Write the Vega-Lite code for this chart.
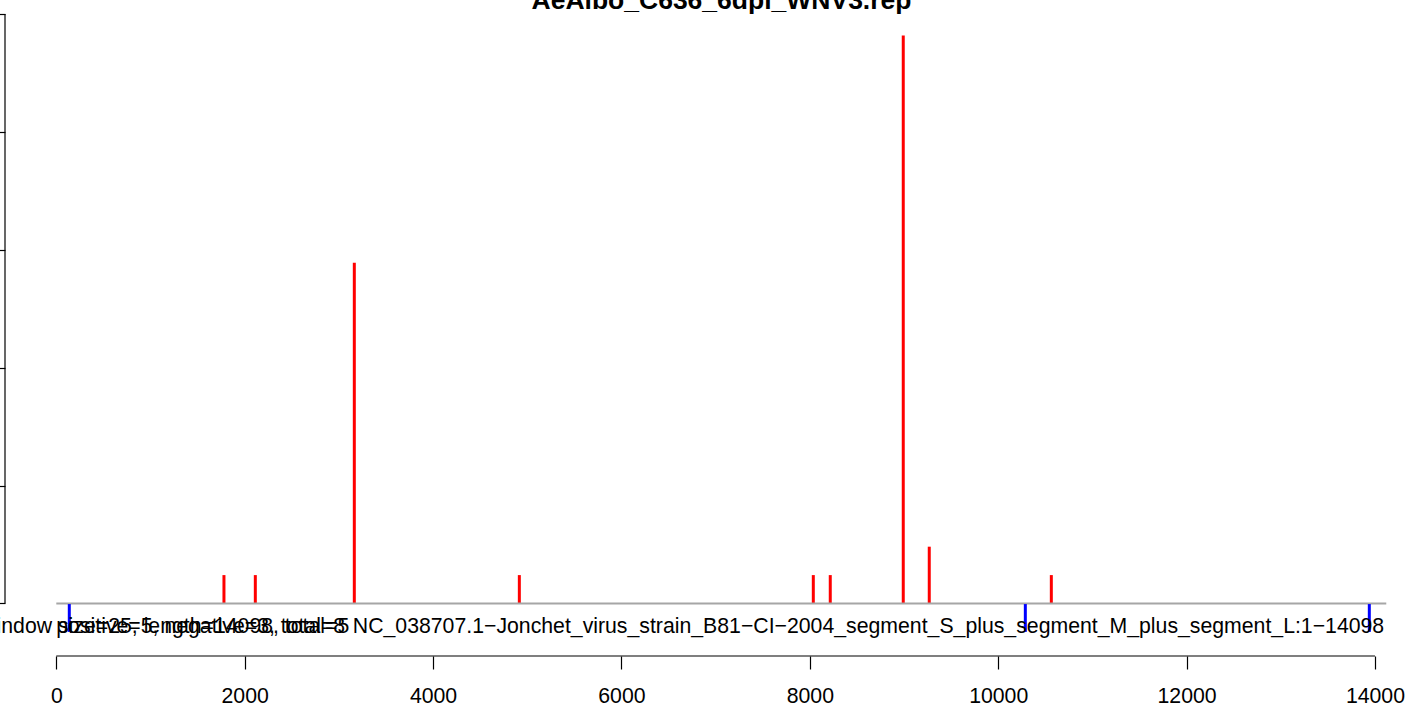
{
  "$schema": "https://vega.github.io/schema/vega-lite/v6.json",
  "width": 1395,
  "height": 642,
  "autosize": {"type": "none"},
  "padding": {"left": 5, "top": 14, "right": 7, "bottom": 51},
  "background": "white",
  "title": {"text": "AeAlbo_C636_6dpi_WNV3.rep", "font": "Liberation Sans", "fontSize": 26.5, "fontWeight": "bold", "anchor": "middle", "baseline": "alphabetic", "offset": 0, "dy": 22, "dx": 19, "color": "black"},
  "config": {"view": {"stroke": null}},
  "datasets": {
    "pos": [
      {"position": 1780, "count": 1},
      {"position": 2113, "count": 1},
      {"position": 3164, "count": 12},
      {"position": 4916, "count": 1},
      {"position": 8037, "count": 1},
      {"position": 8217, "count": 1},
      {"position": 8992, "count": 20},
      {"position": 9268, "count": 2},
      {"position": 10564, "count": 1}
    ],
    "neg": [
      {"position": 138, "count": -1},
      {"position": 10288, "count": -1},
      {"position": 13940, "count": -1}
    ],
    "leftlabels": [
      {"x": -797, "label": "window size=25, length=14098, total=5"},
      {"x": 0, "label": "positive=5, negative=3, total=8"}
    ],
    "rightlabels": [
      {"x": 14098, "label": "NC_038707.1\u2212Jonchet_virus_strain_B81\u2212CI\u22122004_segment_S_plus_segment_M_plus_segment_L:1\u221214098"}
    ]
  },
  "layer": [
    {
      "data": {"values": [{"a": 0, "b": 14000, "y": -1.849}]},
      "mark": {"type": "rule", "color": "black", "strokeWidth": 1.2},
      "encoding": {
        "x": {"field": "a", "type": "quantitative", "scale": {"domain": [-544.6, 14265.8], "nice": false, "zero": false},
          "axis": {"domain": false, "grid": false, "values": [0, 2000, 4000, 6000, 8000, 10000, 12000, 14000], "format": "d", "tickSize": 13, "tickColor": "black", "tickWidth": 1.2, "labelFont": "Liberation Sans", "labelFontSize": 21.25, "labelColor": "black", "labelPadding": 16, "title": null, "labelFlush": false, "labelOverlap": false}},
        "x2": {"field": "b"},
        "y": {"field": "y", "type": "quantitative", "scale": {"domain": [-1.849, 20.757], "nice": false, "zero": false},
          "axis": {"domain": false, "grid": false, "labels": false, "values": [0, 4.15, 8.3, 12.45, 16.6, 20.757], "tickSize": 12, "tickColor": "black", "tickWidth": 1.2, "title": null}}
      }
    },
    {
      "data": {"values": [{"x": -544.6, "a": 0, "b": 20.757}]},
      "mark": {"type": "rule", "color": "black", "strokeWidth": 1.2},
      "encoding": {
        "x": {"field": "x", "type": "quantitative"},
        "y": {"field": "a", "type": "quantitative"},
        "y2": {"field": "b"}
      }
    },
    {
      "data": {"name": "pos"},
      "mark": {"type": "rule", "color": "#ff0000", "strokeWidth": 3},
      "encoding": {
        "x": {"field": "position", "type": "quantitative"},
        "y": {"field": "count", "type": "quantitative"},
        "y2": {"datum": 0}
      }
    },
    {
      "data": {"values": [{"a": 0, "b": 14120, "y": 0}]},
      "mark": {"type": "rule", "color": "#a6a6a6", "strokeWidth": 2},
      "encoding": {
        "x": {"field": "a", "type": "quantitative"},
        "x2": {"field": "b"},
        "y": {"field": "y", "type": "quantitative"}
      }
    },
    {
      "data": {"name": "neg"},
      "mark": {"type": "rule", "color": "#0000ff", "strokeWidth": 3},
      "encoding": {
        "x": {"field": "position", "type": "quantitative"},
        "y": {"field": "count", "type": "quantitative"},
        "y2": {"datum": -0.02}
      }
    },
    {
      "data": {"name": "leftlabels"},
      "mark": {"type": "text", "font": "Liberation Sans", "fontSize": 21.25, "color": "black", "baseline": "alphabetic", "align": "left"},
      "encoding": {
        "x": {"field": "x", "type": "quantitative"},
        "y": {"datum": -1.04, "type": "quantitative"},
        "text": {"field": "label"}
      }
    },
    {
      "data": {"name": "rightlabels"},
      "mark": {"type": "text", "font": "Liberation Sans", "fontSize": 21.25, "color": "black", "baseline": "alphabetic", "align": "right"},
      "encoding": {
        "x": {"field": "x", "type": "quantitative"},
        "y": {"datum": -1.04, "type": "quantitative"},
        "text": {"field": "label"}
      }
    }
  ]
}
